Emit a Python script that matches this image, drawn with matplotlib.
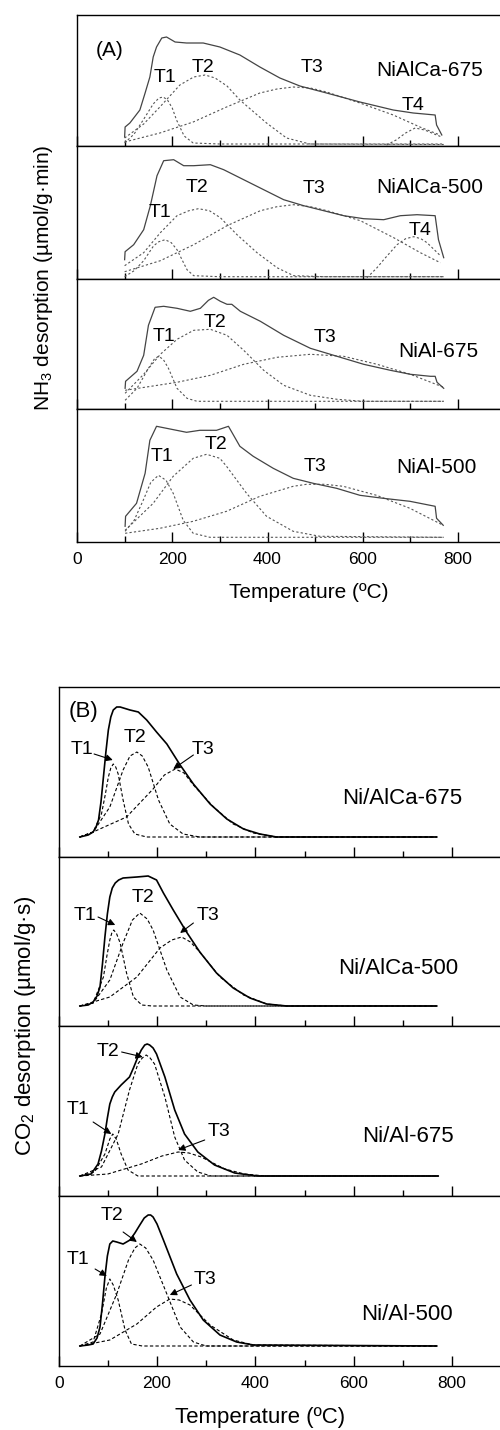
import matplotlib
matplotlib.use('Agg')
import matplotlib.pyplot as plt
from matplotlib.ticker import MultipleLocator

plt.rcParams['font.family'] = ['Liberation Sans', 'DejaVu Sans']
plt.rcParams['mathtext.fontset'] = 'custom'
plt.rcParams['mathtext.rm'] = 'Liberation Sans'
plt.rcParams['mathtext.it'] = 'Liberation Sans:italic'

# ---- (A) NH3-TPD, intensities in arbitrary units ----
a1_tot_x = [100, 101, 111, 132, 143, 153, 160, 167, 178, 188, 206, 230, 265, 300, 342, 384, 426, 468, 524, 594, 664, 706, 752, 755, 766]
a1_tot_y = [9, 19, 23, 36, 53, 69, 89, 99, 108, 109, 104, 103, 103, 99, 91, 79, 68, 60, 53, 44, 36, 33, 31, 21, 11]
a1_t1_x = [100, 120, 139, 160, 172, 181, 190, 200, 209, 225, 244, 300, 770]
a1_t1_y = [3, 12, 26, 42, 48, 49, 46, 38, 26, 10, 3, 2, 2]
a1_t2_x = [100, 140, 174, 216, 245, 269, 290, 315, 342, 398, 440, 489, 770]
a1_t2_y = [8, 22, 39, 61, 69, 71, 68, 60, 46, 23, 8, 2, 1.5]
a1_t3_x = [100, 174, 244, 314, 384, 420, 454, 490, 524, 594, 664, 720, 762]
a1_t3_y = [4, 13, 24, 39, 53, 57, 59, 58, 54, 43, 31, 19, 11]
a1_t4_x = [650, 670, 690, 710, 730, 750, 766]
a1_t4_y = [1, 6, 13, 18, 16, 12, 9]

a2_tot_x = [100, 101, 119, 140, 154, 168, 182, 203, 224, 245, 280, 308, 350, 392, 434, 476, 518, 560, 602, 644, 679, 714, 752, 759, 770]
a2_tot_y = [19, 27, 34, 49, 73, 103, 118, 119, 113, 113, 114, 109, 99, 89, 79, 73, 68, 63, 60, 59, 63, 64, 63, 39, 21]
a2_t1_x = [100, 120, 140, 161, 172, 185, 198, 210, 231, 245, 300, 770]
a2_t1_y = [2, 8, 18, 33, 37, 39, 36, 29, 9, 3, 2, 2]
a2_t2_x = [100, 140, 175, 210, 235, 255, 278, 301, 336, 378, 420, 455, 520, 770]
a2_t2_y = [13, 26, 46, 63, 68, 70, 68, 61, 44, 26, 11, 3, 2, 2]
a2_t3_x = [100, 175, 245, 315, 385, 420, 455, 490, 525, 595, 665, 721, 763]
a2_t3_y = [7, 18, 34, 53, 68, 72, 74, 72, 68, 58, 41, 26, 16]
a2_t4_x = [609, 630, 644, 672, 690, 707, 722, 735, 763]
a2_t4_y = [1, 11, 19, 34, 40, 42, 40, 36, 23]

a3_tot_x = [101, 102, 126, 140, 150, 164, 182, 210, 238, 259, 276, 287, 301, 315, 325, 343, 385, 434, 490, 546, 602, 658, 700, 742, 752, 756, 770]
a3_tot_y = [21, 28, 38, 54, 84, 102, 103, 101, 98, 101, 109, 112, 108, 105, 105, 98, 88, 74, 61, 53, 45, 39, 35, 33, 33, 27, 21]
a3_t1_x = [101, 126, 150, 162, 171, 181, 192, 210, 231, 252, 300, 770]
a3_t1_y = [9, 21, 41, 50, 53, 50, 41, 21, 11, 8, 8, 8]
a3_t2_x = [101, 140, 175, 210, 245, 280, 315, 350, 392, 434, 490, 546, 600, 770]
a3_t2_y = [16, 35, 55, 70, 79, 80, 74, 59, 39, 24, 14, 10, 8, 8]
a3_t3_x = [101, 210, 280, 350, 420, 490, 560, 630, 700, 770]
a3_t3_y = [19, 27, 34, 45, 52, 55, 53, 45, 35, 22]

a4_tot_x = [101, 102, 125, 143, 153, 167, 188, 230, 258, 293, 318, 342, 370, 412, 454, 496, 545, 594, 643, 699, 752, 755, 769]
a4_tot_y = [16, 26, 39, 69, 102, 116, 114, 110, 112, 112, 116, 96, 86, 74, 64, 59, 54, 47, 44, 41, 36, 24, 17]
a4_t1_x = [101, 120, 139, 155, 171, 187, 202, 223, 244, 279, 770]
a4_t1_y = [11, 22, 42, 60, 67, 62, 49, 22, 9, 5, 5]
a4_t2_x = [101, 160, 202, 244, 272, 300, 314, 356, 398, 454, 510, 770]
a4_t2_y = [12, 39, 66, 84, 88, 84, 76, 49, 26, 11, 6, 5]
a4_t3_x = [101, 174, 244, 314, 384, 454, 482, 520, 559, 629, 699, 769]
a4_t3_y = [9, 14, 21, 31, 46, 56, 58, 58, 56, 47, 34, 17]

# ---- (B) CO2-TPD ----
b1_tot_x = [43, 60, 70, 76, 81, 86, 91, 96, 101, 106, 111, 118, 125, 145, 162, 179, 199, 220, 247, 274, 308, 342, 376, 409, 443, 769]
b1_tot_y = [20, 22, 25, 30, 37, 55, 80, 105, 127, 140, 147, 150, 150, 147, 145, 137, 125, 113, 92, 73, 53, 38, 28, 23, 20, 20]
b1_t1_x = [43, 70, 87, 95, 101, 106, 111, 116, 121, 131, 142, 155, 179, 769]
b1_t1_y = [20, 25, 43, 63, 80, 89, 93, 90, 83, 57, 33, 23, 20, 20]
b1_t2_x = [43, 70, 104, 131, 145, 159, 170, 182, 203, 226, 253, 287, 769]
b1_t2_y = [20, 25, 50, 87, 101, 105, 101, 90, 57, 33, 23, 20, 20]
b1_t3_x = [43, 70, 138, 192, 215, 237, 255, 274, 315, 355, 396, 443, 769]
b1_t3_y = [20, 25, 40, 68, 82, 88, 84, 72, 50, 33, 24, 20, 20]

b2_tot_x = [43, 60, 70, 78, 84, 89, 94, 99, 104, 109, 115, 122, 131, 159, 182, 199, 213, 233, 260, 287, 321, 355, 389, 423, 464, 769]
b2_tot_y = [20, 21, 24, 30, 39, 62, 89, 112, 129, 138, 143, 146, 148, 149, 150, 146, 133, 116, 94, 74, 53, 38, 28, 22, 20, 20]
b2_t1_x = [43, 70, 91, 98, 104, 108, 112, 118, 125, 138, 152, 169, 190, 769]
b2_t1_y = [20, 23, 49, 70, 86, 93, 96, 92, 83, 53, 29, 21, 20, 20]
b2_t2_x = [43, 70, 104, 131, 150, 165, 180, 192, 220, 247, 274, 300, 769]
b2_t2_y = [20, 23, 46, 83, 106, 113, 107, 96, 56, 29, 21, 20, 20]
b2_t3_x = [43, 104, 159, 206, 230, 250, 268, 287, 328, 376, 423, 464, 769]
b2_t3_y = [20, 29, 49, 78, 86, 89, 84, 74, 49, 31, 22, 20, 20]

b3_tot_x = [43, 66, 80, 87, 94, 99, 104, 109, 114, 127, 144, 152, 161, 168, 175, 180, 185, 192, 199, 216, 236, 256, 283, 317, 358, 405, 772]
b3_tot_y = [20, 22, 32, 45, 62, 78, 92, 99, 104, 111, 119, 128, 139, 146, 151, 152, 151, 148, 142, 119, 86, 62, 44, 31, 23, 20, 20]
b3_t1_x = [43, 73, 94, 104, 110, 117, 127, 141, 161, 772]
b3_t1_y = [20, 24, 42, 57, 62, 57, 42, 26, 20, 20]
b3_t2_x = [43, 87, 121, 144, 161, 170, 178, 186, 195, 216, 236, 256, 283, 310, 772]
b3_t2_y = [20, 29, 62, 106, 132, 138, 141, 138, 132, 99, 59, 36, 24, 20, 20]
b3_t3_x = [43, 100, 168, 210, 243, 265, 290, 338, 378, 420, 772]
b3_t3_y = [20, 22, 32, 40, 44, 43, 39, 27, 22, 20, 20]

b4_tot_x = [43, 60, 70, 78, 84, 89, 94, 99, 104, 110, 118, 131, 145, 155, 165, 174, 182, 187, 192, 200, 213, 240, 267, 294, 328, 362, 396, 769]
b4_tot_y = [20, 21, 22, 28, 39, 62, 89, 110, 122, 125, 124, 122, 126, 133, 141, 148, 151, 151, 149, 142, 126, 92, 66, 46, 31, 24, 21, 20]
b4_t1_x = [43, 70, 87, 97, 104, 111, 121, 135, 148, 170, 769]
b4_t1_y = [20, 24, 52, 78, 87, 81, 66, 36, 22, 20, 20]
b4_t2_x = [43, 84, 118, 142, 155, 165, 177, 192, 220, 247, 274, 300, 769]
b4_t2_y = [20, 32, 72, 106, 118, 122, 118, 106, 72, 39, 24, 20, 20]
b4_t3_x = [43, 104, 159, 199, 226, 245, 267, 308, 355, 396, 769]
b4_t3_y = [20, 26, 42, 59, 67, 66, 61, 41, 26, 21, 20]

sample_names_a = ['NiAlCa-675', 'NiAlCa-500', 'NiAl-675', 'NiAl-500']
sample_names_b = ['Ni/AlCa-675', 'Ni/AlCa-500', 'Ni/Al-675', 'Ni/Al-500']

W, H = 500, 1430
fig = plt.figure(figsize=(W / 100, H / 100), dpi=100)


def make_axes(left, scale, top, bottom, show_labels, fs_tick):
    width = 900 * scale
    ax = fig.add_axes([left / W, 1 - bottom / H, width / W, (bottom - top) / H])
    ax.set_xlim(0, 900)
    ax.set_ylim(0, bottom - top)
    ax.set_yticks([])
    ax.xaxis.set_major_locator(MultipleLocator(200))
    ax.xaxis.set_minor_locator(MultipleLocator(100))
    ax.tick_params(axis='x', which='major', direction='in', length=7, width=1, pad=7,
                   labelsize=fs_tick, labelbottom=show_labels)
    ax.tick_params(axis='x', which='minor', direction='in', length=4, width=1)
    for s in ax.spines.values():
        s.set_linewidth(1.0)
    return ax


# ---------- panel A ----------
a_left, a_scale = 77, 0.47625
a_edges = [15, 146, 278.7, 409.3, 542.3]
a_curves = [
    (a1_tot_x, a1_tot_y, [(a1_t1_x, a1_t1_y), (a1_t2_x, a1_t2_y), (a1_t3_x, a1_t3_y), (a1_t4_x, a1_t4_y)]),
    (a2_tot_x, a2_tot_y, [(a2_t1_x, a2_t1_y), (a2_t2_x, a2_t2_y), (a2_t3_x, a2_t3_y), (a2_t4_x, a2_t4_y)]),
    (a3_tot_x, a3_tot_y, [(a3_t1_x, a3_t1_y), (a3_t2_x, a3_t2_y), (a3_t3_x, a3_t3_y)]),
    (a4_tot_x, a4_tot_y, [(a4_t1_x, a4_t1_y), (a4_t2_x, a4_t2_y), (a4_t3_x, a4_t3_y)]),
]
# label positions (temperature, height)
a_labels = [
    [('T1', 185, 68), ('T2', 265, 79), ('T3', 493, 78), ('T4', 705, 41)],
    [('T1', 174, 66), ('T2', 252, 91), ('T3', 497, 90), ('T4', 720, 48)],
    [('T1', 183, 73), ('T2', 290, 87), ('T3', 521, 72)],
    [('T1', 178, 86), ('T2', 292, 98), ('T3', 500, 76)],
]
a_name_pos = [(741, 76), (741, 91), (759, 58), (755, 75)]

for i in range(4):
    ax = make_axes(a_left, a_scale, a_edges[i], a_edges[i + 1], i == 3, 12.5)
    tx, ty, comps = a_curves[i]
    for cx, cy in comps:
        ax.plot(cx, cy, color='#555555', lw=0.8, ls=(0, (2, 2)))
    ax.plot(tx, ty, color='#444444', lw=0.9)
    for lab, x, y in a_labels[i]:
        ax.text(x, y, lab, fontsize=14, ha='center', va='center')
    ax.text(a_name_pos[i][0], a_name_pos[i][1], sample_names_a[i], fontsize=15, ha='center', va='center')
    if i == 0:
        ax.text(69, 96, '(A)', fontsize=15, ha='center', va='center')

fig.text(44 / W, 1 - 278 / H, 'NH$_3$ desorption (\u00b5mol/g\u00b7min)', rotation=90,
         fontsize=15, ha='center', va='center')
fig.text(309 / W, 1 - 593 / H, 'Temperature (\u00baC)', fontsize=15, ha='center', va='center')

# ---------- panel B ----------
b_left, b_scale = 58.7, 0.4916
b_edges = [687, 857, 1026, 1196, 1366]
b_curves = [
    (b1_tot_x, b1_tot_y, [(b1_t1_x, b1_t1_y), (b1_t2_x, b1_t2_y), (b1_t3_x, b1_t3_y)]),
    (b2_tot_x, b2_tot_y, [(b2_t1_x, b2_t1_y), (b2_t2_x, b2_t2_y), (b2_t3_x, b2_t3_y)]),
    (b3_tot_x, b3_tot_y, [(b3_t1_x, b3_t1_y), (b3_t2_x, b3_t2_y), (b3_t3_x, b3_t3_y)]),
    (b4_tot_x, b4_tot_y, [(b4_t1_x, b4_t1_y), (b4_t2_x, b4_t2_y), (b4_t3_x, b4_t3_y)]),
]
# (label, text x, text y, arrow tail, arrow head) ; None = no arrow
b_labels = [
    [('T1', 47, 107, (72, 103), (110, 97)), ('T2', 155, 120, None, None), ('T3', 294, 108, (274, 102), (233, 88))],
    [('T1', 53, 111, (80, 109), (115, 101)), ('T2', 172, 129, None, None), ('T3', 304, 111, (274, 103), (247, 93))],
    [('T2', 100, 144, (128, 144), (171, 139)), ('T1', 39, 86, (70, 74), (107, 62)), ('T3', 327, 64, (297, 56), (243, 46))],
    [('T2', 108, 151, (131, 134), (159, 124)), ('T1', 40, 107, (74, 97), (98, 90)), ('T3', 298, 87, (270, 81), (226, 71))],
]
b_name_pos = [(698, 58), (691, 58), (710, 59), (708, 52)]

for i in range(4):
    ax = make_axes(b_left, b_scale, b_edges[i], b_edges[i + 1], i == 3, 12.5)
    tx, ty, comps = b_curves[i]
    for cx, cy in comps:
        ax.plot(cx, cy, color='black', lw=0.8, ls=(0, (3, 2)))
    ax.plot(tx, ty, color='black', lw=1.2)
    for lab, x, y, tail, head in b_labels[i]:
        ax.text(x, y, lab, fontsize=14, ha='center', va='center')
        if tail is not None:
            ax.annotate('', xy=head, xytext=tail,
                        arrowprops=dict(arrowstyle='-|>', color='black', lw=0.8,
                                        mutation_scale=10, shrinkA=0, shrinkB=0))
    ax.text(b_name_pos[i][0], b_name_pos[i][1], sample_names_b[i], fontsize=16, ha='center', va='center')
    if i == 0:
        ax.text(50, 145, '(B)', fontsize=16, ha='center', va='center')

fig.text(26 / W, 1 - 1026 / H, 'CO$_2$ desorption (\u00b5mol/g\u00b7s)', rotation=90,
         fontsize=16, ha='center', va='center')
fig.text(260 / W, 1 - 1418 / H, 'Temperature (\u00baC)', fontsize=16, ha='center', va='center')

fig.savefig('out.png', dpi=100)
